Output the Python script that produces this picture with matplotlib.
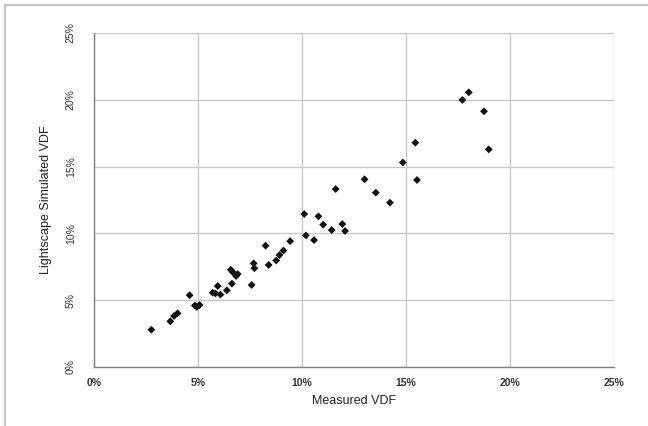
import matplotlib
matplotlib.use("Agg")
import matplotlib.pyplot as plt
from matplotlib.lines import Line2D
from matplotlib.ticker import FuncFormatter

# Measured vs simulated VDF (%)
measured = [2.76, 3.67, 3.85, 4.02, 4.60, 4.85, 4.95, 5.08, 5.71, 5.84,
            5.95, 6.08, 6.39, 6.58, 6.66, 6.63, 6.91, 6.83, 7.58, 7.68,
            7.71, 8.25, 8.40, 8.76, 8.92, 9.11, 9.43, 10.11, 10.19, 10.58,
            10.79, 11.02, 11.43, 11.62, 11.94, 12.07, 13.01, 13.55, 14.23,
            14.85, 15.45, 15.53, 17.71, 18.02, 18.75, 18.98]
simulated = [2.79, 3.42, 3.82, 4.02, 5.37, 4.60, 4.50, 4.64, 5.56, 5.51,
             6.06, 5.42, 5.74, 7.28, 7.12, 6.24, 6.96, 6.81, 6.14, 7.76,
             7.39, 9.08, 7.64, 7.97, 8.38, 8.72, 9.42, 11.45, 9.85, 9.50,
             11.28, 10.65, 10.25, 13.32, 10.70, 10.18, 14.05, 13.05, 12.30,
             15.31, 16.79, 14.00, 19.99, 20.56, 19.14, 16.29]
ticks = [0, 5, 10, 15, 20, 25]

fig = plt.figure(figsize=(6.48, 4.26), dpi=100)
ax = fig.add_axes([0.145, 0.1385, 0.8025, 0.784])

ax.scatter(measured, simulated, marker='D', s=16, color='#111111',
           edgecolors='none', zorder=3)

ax.set_xlim(0, 25)
ax.set_ylim(0, 25)
ax.set_xticks(ticks)
ax.set_yticks(ticks)
pct = FuncFormatter(lambda v, p: '%d%%' % v)
ax.xaxis.set_major_formatter(pct)
ax.yaxis.set_major_formatter(pct)

ax.grid(True, color='#c8c8c8', linewidth=1.0)
ax.set_axisbelow(True)
for s in ['top', 'right']:
    ax.spines[s].set_visible(False)
for s in ['left', 'bottom']:
    ax.spines[s].set_color('#808080')
    ax.spines[s].set_linewidth(1.0)

ax.tick_params(axis='x', length=0, pad=8, labelsize=7.5, colors='#333333')
ax.tick_params(axis='y', length=0, pad=13, labelsize=7.5, colors='#333333')
for t in ax.get_xticklabels():
    t.set_fontweight('bold')
    t.set_family('Liberation Sans')
for t in ax.get_yticklabels():
    t.set_rotation(90)
    t.set_va('center')
    t.set_family(['Liberation Sans Narrow', 'Liberation Sans'])

ax.set_xlabel('Measured VDF', fontsize=9, family='Liberation Sans',
              color='#222222', labelpad=5)
ax.set_ylabel('Lightscape Simulated VDF', fontsize=9, color='#222222',
              family=['Liberation Sans Narrow', 'Liberation Sans'],
              labelpad=10)

# light outer frame (top and left only, like the cropped original)
fig.add_artist(Line2D([5/648, 5/648], [0, 1 - 5/426], color='#c4c4c4',
                      linewidth=1.6, transform=fig.transFigure))
fig.add_artist(Line2D([5/648, 1], [1 - 5/426, 1 - 5/426], color='#c4c4c4',
                      linewidth=1.6, transform=fig.transFigure))

fig.savefig('out.png', dpi=100)
